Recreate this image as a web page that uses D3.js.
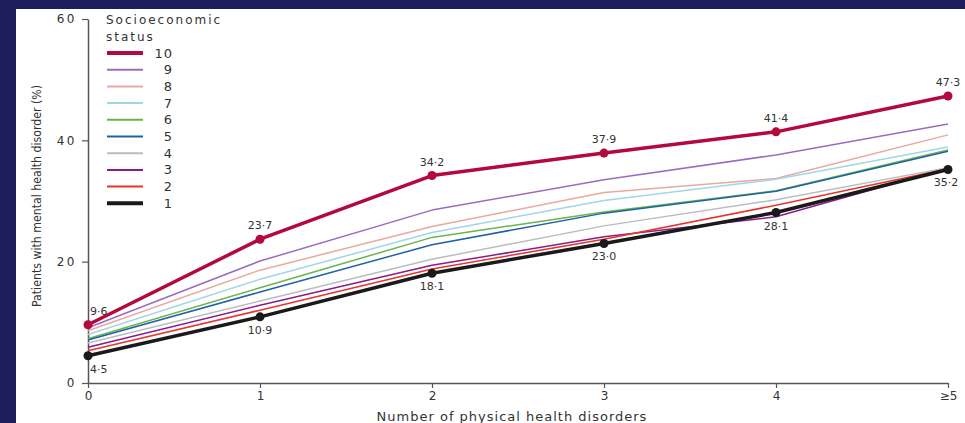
<!DOCTYPE html>
<html><head><meta charset="utf-8">
<script src="https://cdn.jsdelivr.net/npm/d3@7/dist/d3.min.js"></script>
<style>
html,body{margin:0;padding:0;background:#1e1e5c;}
svg{display:block;}
text{font-family:"DejaVu Sans",Verdana,sans-serif;fill:#333;}
</style></head>
<body><svg id="c" width="965" height="423"></svg>
<script>
const categories = ["0","1","2","3","4","≥5"];
const statusLabels = ["10","9","8","7","6","5","4","3","2","1"];
const colors = ["#b3093c","#9a6cc0","#e9a99d","#a0d6e8","#6ab44b","#1e62a6","#b9bdc1","#8a1c8a","#e8342b","#1a1a1a"];
const s10 = [9.6,23.7,34.2,37.9,41.4,47.3];
const s9  = [9.1,20.1,28.5,33.5,37.6,42.7];
const s8  = [8.6,18.6,25.8,31.4,33.7,40.9];
const s7  = [8.0,17.1,24.8,30.1,33.6,38.9];
const s6  = [7.3,15.7,24.0,28.2,31.7,38.4];
const s5  = [7.1,15.0,22.8,28.0,31.6,38.2];
const s4  = [6.6,13.5,20.4,25.9,30.2,35.5];
const s3  = [5.9,12.8,19.4,24.1,27.4,35.4];
const s2  = [5.3,12.0,18.8,23.7,29.3,35.3];
const s1  = [4.5,10.9,18.1,23.0,28.1,35.2];
const seriesVals = [s10,s9,s8,s7,s6,s5,s4,s3,s2,s1];
const topLabels = ["9·6","23·7","34·2","37·9","41·4","47·3"];
const bottomLabels = ["4·5","10·9","18·1","23·0","28·1","35·2"];
const yTicks = [0,20,40,60];

const svg = d3.select("#c");
svg.append("rect").attr("x",16).attr("y",9).attr("width",949).attr("height",414).attr("fill","#fff");

const x = d3.scalePoint().domain(categories).range([88,948]);
const y = d3.scaleLinear().domain([0,60]).range([383,19]);

// axes
const yAxis = svg.append("g").attr("transform","translate(88,0)")
  .call(d3.axisLeft(y).tickValues(yTicks).tickSize(6).tickSizeOuter(0).tickPadding(5));
yAxis.select(".domain").attr("stroke","#555").attr("stroke-width",1.5);
yAxis.selectAll(".tick line").attr("stroke","#555").attr("stroke-width",1.2);
yAxis.selectAll(".tick text").style("font-size","12px").style("letter-spacing","2.5px").attr("fill","#444");

const xAxis = svg.append("g").attr("transform","translate(0,383)")
  .call(d3.axisBottom(x).tickSize(5).tickSizeOuter(0).tickPadding(3));
xAxis.select(".domain").attr("stroke","#555").attr("stroke-width",1.5);
xAxis.selectAll(".tick line").attr("stroke","#555").attr("stroke-width",1.2);
xAxis.selectAll(".tick text").style("font-size","12px").attr("fill","#444");

svg.append("text").attr("x",512).attr("y",421).attr("text-anchor","middle")
  .style("font-size","13px").style("letter-spacing","1px").attr("fill","#333").text("Number of physical health disorders");
svg.append("text").attr("transform","translate(41,196) rotate(-90)").attr("text-anchor","middle")
  .style("font-family","'DejaVu Sans Condensed','Liberation Sans Narrow','Liberation Sans',sans-serif")
  .style("font-size","12.5px").attr("fill","#333")
  .attr("textLength",222).attr("lengthAdjust","spacingAndGlyphs")
  .text("Patients with mental health disorder (%)");

// lines
const line = d3.line().x((d,i)=>x(categories[i])).y(d=>y(d));
const order = [1,2,3,4,5,6,7,8,9,0];
order.forEach(k=>{
  const thick = (k===0||k===9);
  svg.append("path").datum(seriesVals[k]).attr("d",line).attr("fill","none")
    .attr("stroke",colors[k]).attr("stroke-width",thick?3.5:1.5).attr("stroke-linejoin","round");
  if(thick){
    svg.append("g").selectAll("circle").data(seriesVals[k]).join("circle")
      .attr("cx",(d,i)=>x(categories[i])).attr("cy",d=>y(d)).attr("r",4.5).attr("fill",colors[k]);
  }
});

// data labels
s10.forEach((v,i)=>{
  const cx = x(categories[i]);
  svg.append("text").attr("x", i===0?cx+2:cx).attr("y",y(v)-10)
    .attr("text-anchor", i===0?"start":"middle").style("font-size","11px").attr("fill","#333").text(topLabels[i]);
});
s1.forEach((v,i)=>{
  const cx = x(categories[i]);
  svg.append("text").attr("x", i===0?cx+2:(i===5?cx-2:cx)).attr("y",y(v)+17)
    .attr("text-anchor", i===0?"start":"middle").style("font-size","11px").attr("fill","#333").text(bottomLabels[i]);
});

// legend
svg.append("text").attr("x",106).attr("y",24).style("font-size","12px").style("letter-spacing","2px").attr("fill","#333").text("Socioeconomic");
svg.append("text").attr("x",106).attr("y",41).style("font-size","12px").style("letter-spacing","2px").attr("fill","#333").text("status");
const lg = svg.append("g");
statusLabels.forEach((lab,k)=>{
  const ly = 53 + k*16.7;
  const thick = (k===0||k===9);
  lg.append("line").attr("x1",107).attr("x2",143).attr("y1",ly).attr("y2",ly)
    .attr("stroke",colors[k]).attr("stroke-width",thick?4:2);
  lg.append("text").attr("x",173).attr("y",ly+4.5).attr("text-anchor","end")
    .style("font-size","13px").style("letter-spacing","1px").attr("fill","#333").text(lab);
});
</script></body></html>
